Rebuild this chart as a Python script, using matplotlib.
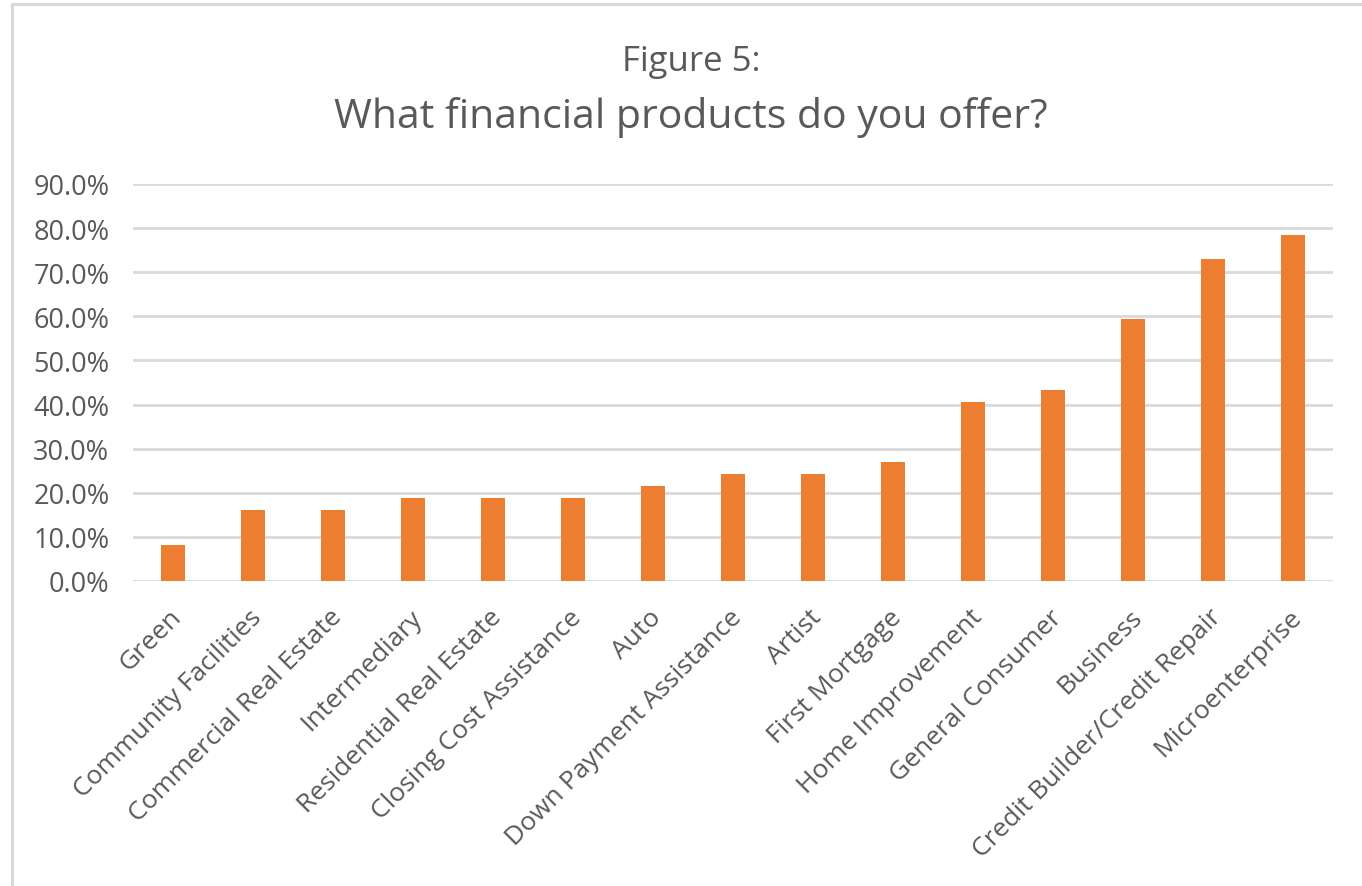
import matplotlib
matplotlib.use("Agg")
import matplotlib.pyplot as plt
from matplotlib.patches import Rectangle
from matplotlib.ticker import PercentFormatter
from matplotlib.transforms import ScaledTranslation

plt.rcParams['font.family'] = ['Open Sans', 'DejaVu Sans']

products = [
    "Green", "Community Facilities", "Commercial Real Estate", "Intermediary",
    "Residential Real Estate", "Closing Cost Assistance", "Auto",
    "Down Payment Assistance", "Artist", "First Mortgage", "Home Improvement",
    "General Consumer", "Business", "Credit Builder/Credit Repair",
    "Microenterprise",
]
shares = [0.081, 0.162, 0.162, 0.189, 0.189, 0.189, 0.216,
          0.243, 0.243, 0.270, 0.405, 0.432, 0.595, 0.730, 0.784]
y_ticks = [0.0, 0.1, 0.2, 0.3, 0.4, 0.5, 0.6, 0.7, 0.8, 0.9]

TEXT = "#595959"
GRID = "#d9d9d9"
BAR = "#ED7D31"

W, H = 1362, 887
fig = plt.figure(figsize=(W / 100, H / 100), dpi=100)

# chart area frame (runs off the right and bottom edges)
fig.patches.append(Rectangle((12 / W, -0.1), 1.2, 1 - 5 / H + 0.1,
                             transform=fig.transFigure, fill=False,
                             edgecolor=GRID, linewidth=2.2, zorder=0))

ax = fig.add_axes([133 / W, 1 - 582 / H, 1200 / W, (582 - 185) / H])
x = list(range(len(products)))
ax.bar(x, shares, width=0.3, color=BAR, zorder=3)

ax.set_xlim(-0.5, len(products) - 0.5)
ax.set_ylim(0, 0.9)
ax.set_yticks(y_ticks)
ax.yaxis.set_major_formatter(PercentFormatter(1.0, decimals=1))
ax.grid(axis="y", color=GRID, linewidth=2.0, zorder=0)
for s in ax.spines.values():
    s.set_visible(False)
ax.tick_params(axis="both", length=0, colors=TEXT)
ax.tick_params(axis="y", pad=17, labelsize=19.5)

# category labels, rotated 45 degrees and hung below each bar
ax.set_xticks(x)
ax.set_xticklabels([])
label_tf = ax.get_xaxis_transform() + ScaledTranslation(5 / 100, -32 / 100,
                                                         fig.dpi_scale_trans)
for xi, name in zip(x, products):
    ax.text(xi, 0, name, transform=label_tf, rotation=45,
            rotation_mode="anchor", ha="right", va="center",
            fontsize=19, color=TEXT)

fig.text(691 / W, 1 - 62 / H, "Figure 5:", ha="center", va="center",
         fontsize=25, color=TEXT)
fig.text(691 / W, 1 - 118 / H, "What financial products do you offer?",
         ha="center", va="center", fontsize=29.5, color=TEXT)

fig.savefig("out.png", dpi=100, facecolor="white")
